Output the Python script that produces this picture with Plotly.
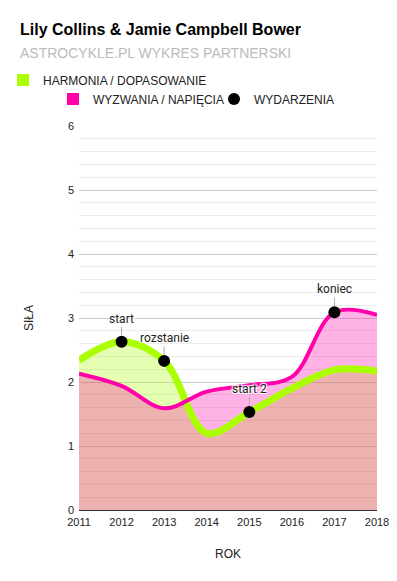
import plotly.graph_objects as go

years = [2011, 2012, 2013, 2014, 2015, 2016, 2017, 2018]
harmonia = [2.34, 2.63, 2.33, 1.20, 1.53, 1.90, 2.19, 2.17]
wyzwania = [2.13, 1.94, 1.59, 1.85, 1.95, 2.08, 3.09, 3.05]
event_years = [2012, 2013, 2015, 2017]
event_values = [2.63, 2.33, 1.53, 3.09]
event_labels = ["start", "rozstanie", "start 2", "koniec"]

GREEN = "#aaff00"
PINK = "#ff00aa"
W, H = 397, 581

fig = go.Figure()
# fills first
fig.add_trace(go.Scatter(
    x=years, y=harmonia, mode="lines", line=dict(width=0, shape="spline", smoothing=1.0),
    fill="tozeroy", fillcolor="rgba(170,255,0,0.3)", showlegend=False, hoverinfo="skip"))
fig.add_trace(go.Scatter(
    x=years, y=wyzwania, mode="lines", line=dict(width=0, shape="spline", smoothing=1.0),
    fill="tozeroy", fillcolor="rgba(255,0,170,0.3)", showlegend=False, hoverinfo="skip"))
# lines on top
fig.add_trace(go.Scatter(
    x=years, y=harmonia, mode="lines", name="HARMONIA / DOPASOWANIE",
    line=dict(color=GREEN, width=7, shape="spline", smoothing=1.0), showlegend=False))
fig.add_trace(go.Scatter(
    x=years, y=wyzwania, mode="lines", name="WYZWANIA / NAPIĘCIA",
    line=dict(color=PINK, width=4, shape="spline", smoothing=1.0), showlegend=False))
fig.add_trace(go.Scatter(
    x=event_years, y=event_values, mode="markers", name="WYDARZENIA",
    marker=dict(color="black", size=12), legend="legend3"))
# legend entries
fig.add_trace(go.Scatter(x=[None], y=[None], mode="markers", name="HARMONIA / DOPASOWANIE",
                         marker=dict(color=GREEN, size=12, symbol="square"), legend="legend"))
fig.add_trace(go.Scatter(x=[None], y=[None], mode="markers", name="WYZWANIA / NAPIĘCIA",
                         marker=dict(color=PINK, size=12, symbol="square"), legend="legend2"))

shadow = "1px 1px 1px white, -1px -1px 1px white, 1px -1px 1px white, -1px 1px 1px white"
for x, y, t in zip(event_years, event_values, event_labels):
    fig.add_annotation(x=x, y=y, text=t, showarrow=True, arrowhead=0, arrowwidth=1,
                       arrowcolor="#aaaaaa", ax=0, ay=-23, standoff=6,
                       font=dict(family="Roboto", size=12, color="#222222", shadow=shadow))

L, R, T, B = 79, 20, 126, 71
pw, ph = W - L - R, H - T - B
fig.add_annotation(xref="paper", yref="paper", x=(18 - L) / pw, y=1 + (T - 52.5) / ph,
                   xanchor="left", yanchor="middle", showarrow=False,
                   text="ASTROCYKLE.PL WYKRES PARTNERSKI",
                   font=dict(family="Liberation Sans, Arial", size=14, color="#bbbbbb"))

def leg(xpx, ypx):
    return dict(orientation="h", xref="container", yref="container", x=xpx / W, y=1 - ypx / H,
                xanchor="left", yanchor="middle", font=dict(size=12, color="#222222"),
                bgcolor="rgba(0,0,0,0)", borderwidth=0)

fig.update_layout(
    width=W, height=H,
    margin=dict(l=L, r=R, t=T, b=B, autoexpand=False),
    paper_bgcolor="white", plot_bgcolor="white",
    font=dict(family="Liberation Sans, Arial", color="#222222"),
    title=dict(text="<b>Lily Collins & Jamie Campbell Bower</b>", x=20 / W, xanchor="left",
               xref="container", yref="container", y=1 - 29 / H, yanchor="middle",
               font=dict(size=16, color="#000000")),
    legend=leg(3, 80),
    legend2=leg(53, 99),
    legend3=leg(214, 99),
    xaxis=dict(range=[2011, 2018], dtick=1, tick0=2011, showgrid=False, zeroline=False,
               showline=False, ticks="", ticklabelstandoff=4,
               tickfont=dict(size=11, color="#222222"),
               title=dict(text="ROK", font=dict(size=12, color="#222222"), standoff=22)),
    yaxis=dict(range=[0, 6], dtick=1, gridcolor="#cccccc", gridwidth=1,
               zeroline=True, zerolinecolor="#333333", zerolinewidth=1.3,
               ticks="", ticklabelstandoff=4, tickfont=dict(size=11, color="#222222"),
               minor=dict(dtick=0.2, showgrid=True, gridcolor="#ebebeb", gridwidth=1),
               title=dict(text="SIŁA", font=dict(size=12, color="#222222"), standoff=31)),
)
fig.write_html("out.html")
